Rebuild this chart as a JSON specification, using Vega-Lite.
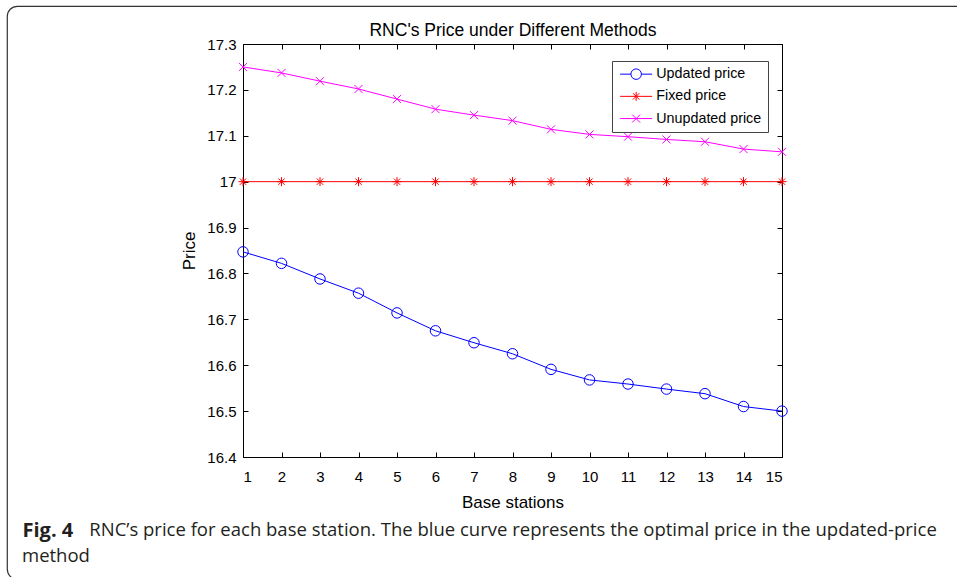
{
  "$schema": "https://vega.github.io/schema/vega-lite/v6.json",
  "width": 962,
  "height": 573,
  "autosize": {"type": "none"},
  "padding": {"left": 7, "top": 6, "right": -12, "bottom": -2},
  "background": "white",
  "title": {
    "text": ["\u200b\u00a0\u00a0\u00a0\u00a0\u00a0\u00a0\u00a0\u00a0\u00a0\u00a0\u00a0\u00a0\u00a0\u00a0RNC\u2019s price for each base station. The blue curve represents the optimal price in the updated-price", "method"],
    "orient": "bottom",
    "anchor": "start",
    "frame": "group",
    "offset": -43,
    "dx": 15,
    "baseline": "alphabetic",
    "align": "left",
    "font": "Open Sans",
    "fontSize": 18.5,
    "fontWeight": "normal",
    "color": "#231f20",
    "lineHeight": 26
  },
  "config": {
    "view": {"stroke": "#333333", "strokeWidth": 1.2, "cornerRadius": 10},
    "axis": {
      "grid": false,
      "domainColor": "#000000",
      "tickColor": "#000000",
      "labelColor": "#000000",
      "titleColor": "#000000",
      "labelFont": "Liberation Sans",
      "titleFont": "Liberation Sans",
      "labelFontSize": 15,
      "titleFontSize": 17,
      "titleFontWeight": "normal",
      "tickSize": -5,
      "domainWidth": 1,
      "tickWidth": 1
    }
  },
  "data": {
    "values": [
      {"station": 1, "series": "Updated price", "price": 16.847},
      {"station": 2, "series": "Updated price", "price": 16.822},
      {"station": 3, "series": "Updated price", "price": 16.788},
      {"station": 4, "series": "Updated price", "price": 16.757},
      {"station": 5, "series": "Updated price", "price": 16.714},
      {"station": 6, "series": "Updated price", "price": 16.675},
      {"station": 7, "series": "Updated price", "price": 16.649},
      {"station": 8, "series": "Updated price", "price": 16.625},
      {"station": 9, "series": "Updated price", "price": 16.591},
      {"station": 10, "series": "Updated price", "price": 16.568},
      {"station": 11, "series": "Updated price", "price": 16.559},
      {"station": 12, "series": "Updated price", "price": 16.548},
      {"station": 13, "series": "Updated price", "price": 16.538},
      {"station": 14, "series": "Updated price", "price": 16.51},
      {"station": 15, "series": "Updated price", "price": 16.5},
      {"station": 1, "series": "Fixed price", "price": 17},
      {"station": 2, "series": "Fixed price", "price": 17},
      {"station": 3, "series": "Fixed price", "price": 17},
      {"station": 4, "series": "Fixed price", "price": 17},
      {"station": 5, "series": "Fixed price", "price": 17},
      {"station": 6, "series": "Fixed price", "price": 17},
      {"station": 7, "series": "Fixed price", "price": 17},
      {"station": 8, "series": "Fixed price", "price": 17},
      {"station": 9, "series": "Fixed price", "price": 17},
      {"station": 10, "series": "Fixed price", "price": 17},
      {"station": 11, "series": "Fixed price", "price": 17},
      {"station": 12, "series": "Fixed price", "price": 17},
      {"station": 13, "series": "Fixed price", "price": 17},
      {"station": 14, "series": "Fixed price", "price": 17},
      {"station": 15, "series": "Fixed price", "price": 17},
      {"station": 1, "series": "Unupdated price", "price": 17.25},
      {"station": 2, "series": "Unupdated price", "price": 17.237},
      {"station": 3, "series": "Unupdated price", "price": 17.219},
      {"station": 4, "series": "Unupdated price", "price": 17.202},
      {"station": 5, "series": "Unupdated price", "price": 17.18},
      {"station": 6, "series": "Unupdated price", "price": 17.158},
      {"station": 7, "series": "Unupdated price", "price": 17.145},
      {"station": 8, "series": "Unupdated price", "price": 17.133},
      {"station": 9, "series": "Unupdated price", "price": 17.114},
      {"station": 10, "series": "Unupdated price", "price": 17.103},
      {"station": 11, "series": "Unupdated price", "price": 17.098},
      {"station": 12, "series": "Unupdated price", "price": 17.092},
      {"station": 13, "series": "Unupdated price", "price": 17.087},
      {"station": 14, "series": "Unupdated price", "price": 17.071},
      {"station": 15, "series": "Unupdated price", "price": 17.065}
    ]
  },
  "layer": [
    {
      "mark": {"type": "line", "strokeWidth": 1},
      "encoding": {
        "x": {
          "field": "station", "type": "quantitative",
          "scale": {"domain": [1, 15], "range": [236, 775], "nice": false, "zero": false},
          "axis": {
            "orient": "bottom", "offset": -122,
            "values": [1, 2, 3, 4, 5, 6, 7, 8, 9, 10, 11, 12, 13, 14, 15],
            "format": "d", "labelPadding": 17,
            "title": "Base stations", "titlePadding": 10
          }
        },
        "y": {
          "field": "price", "type": "quantitative",
          "scale": {"domain": [16.4, 17.3], "range": [451, 38], "nice": false, "zero": false},
          "axis": {
            "orient": "left", "offset": -236,
            "values": [16.4, 16.5, 16.6, 16.7, 16.8, 16.9, 17, 17.1, 17.2, 17.3],
            "format": ".1~f", "labelPadding": 12,
            "title": "Price", "titlePadding": 8
          }
        },
        "color": {
          "field": "series", "type": "nominal",
          "scale": {"domain": ["Updated price", "Fixed price", "Unupdated price"], "range": ["#0000ff", "#ff0000", "#ff00ff"]},
          "legend": {
            "title": null,
            "orient": "none",
            "legendX": 605,
            "legendY": 55,
            "padding": 6,
            "strokeColor": "#444444",
            "fillColor": "white",
            "labelFont": "Liberation Sans",
            "labelFontSize": 14.3,
            "labelColor": "#000000",
            "symbolSize": 100,
            "symbolStrokeWidth": 1,
            "symbolOffset": 11,
            "labelOffset": 13,
            "rowPadding": 7.2,
            "encode": {
              "symbols": {
                "update": {
                  "shape": {"signal": "datum.value === 'Updated price' ? 'M-3.2,0H-1.05M1.05,0H3.2M1.05,0A1.05,1.05 0 1 1 -1.05,0A1.05,1.05 0 1 1 1.05,0' : datum.value === 'Fixed price' ? 'M-3.2,0H3.2M0,-0.9V0.9M-0.64,-0.64L0.64,0.64M-0.64,0.64L0.64,-0.64' : 'M-3.2,0H3.2M-0.8,-0.8L0.8,0.8M-0.8,0.8L0.8,-0.8'"},
                  "fill": {"value": "transparent"}
                }
              }
            }
          }
        }
      }
    },
    {
      "mark": {"type": "point", "filled": false, "strokeWidth": 1, "size": 100, "opacity": 1},
      "encoding": {
        "x": {
          "field": "station", "type": "quantitative",
          "scale": {"domain": [1, 15], "range": [236, 775], "nice": false, "zero": false},
          "axis": {
            "orient": "top", "offset": -38,
            "values": [1, 2, 3, 4, 5, 6, 7, 8, 9, 10, 11, 12, 13, 14, 15],
            "labels": false,
            "title": "RNC's Price under Different Methods", "titleFontSize": 17.5, "titlePadding": 4
          }
        },
        "y": {
          "field": "price", "type": "quantitative",
          "scale": {"domain": [16.4, 17.3], "range": [451, 38], "nice": false, "zero": false},
          "axis": {
            "orient": "right", "offset": -187,
            "values": [16.4, 16.5, 16.6, 16.7, 16.8, 16.9, 17, 17.1, 17.2, 17.3],
            "labels": false,
            "title": "Fig. 4",
            "titleX": -760, "titleY": 530, "titleAngle": 0,
            "titleAlign": "left", "titleBaseline": "alphabetic",
            "titleFont": "Open Sans", "titleFontWeight": "bold", "titleFontSize": 20, "titleColor": "#231f20"
          }
        },
        "color": {"field": "series", "type": "nominal", "legend": null},
        "shape": {
          "condition": [
            {"test": "datum.series === 'Updated price'", "value": "M1.05,0A1.05,1.05 0 1 1 -1.05,0A1.05,1.05 0 1 1 1.05,0"},
            {"test": "datum.series === 'Fixed price'", "value": "M-0.9,0H0.9M0,-0.9V0.9M-0.64,-0.64L0.64,0.64M-0.64,0.64L0.64,-0.64"}
          ],
          "value": "M-0.8,-0.8L0.8,0.8M-0.8,0.8L0.8,-0.8"
        }
      }
    }
  ],
  "resolve": {"axis": {"x": "independent", "y": "independent"}}
}
